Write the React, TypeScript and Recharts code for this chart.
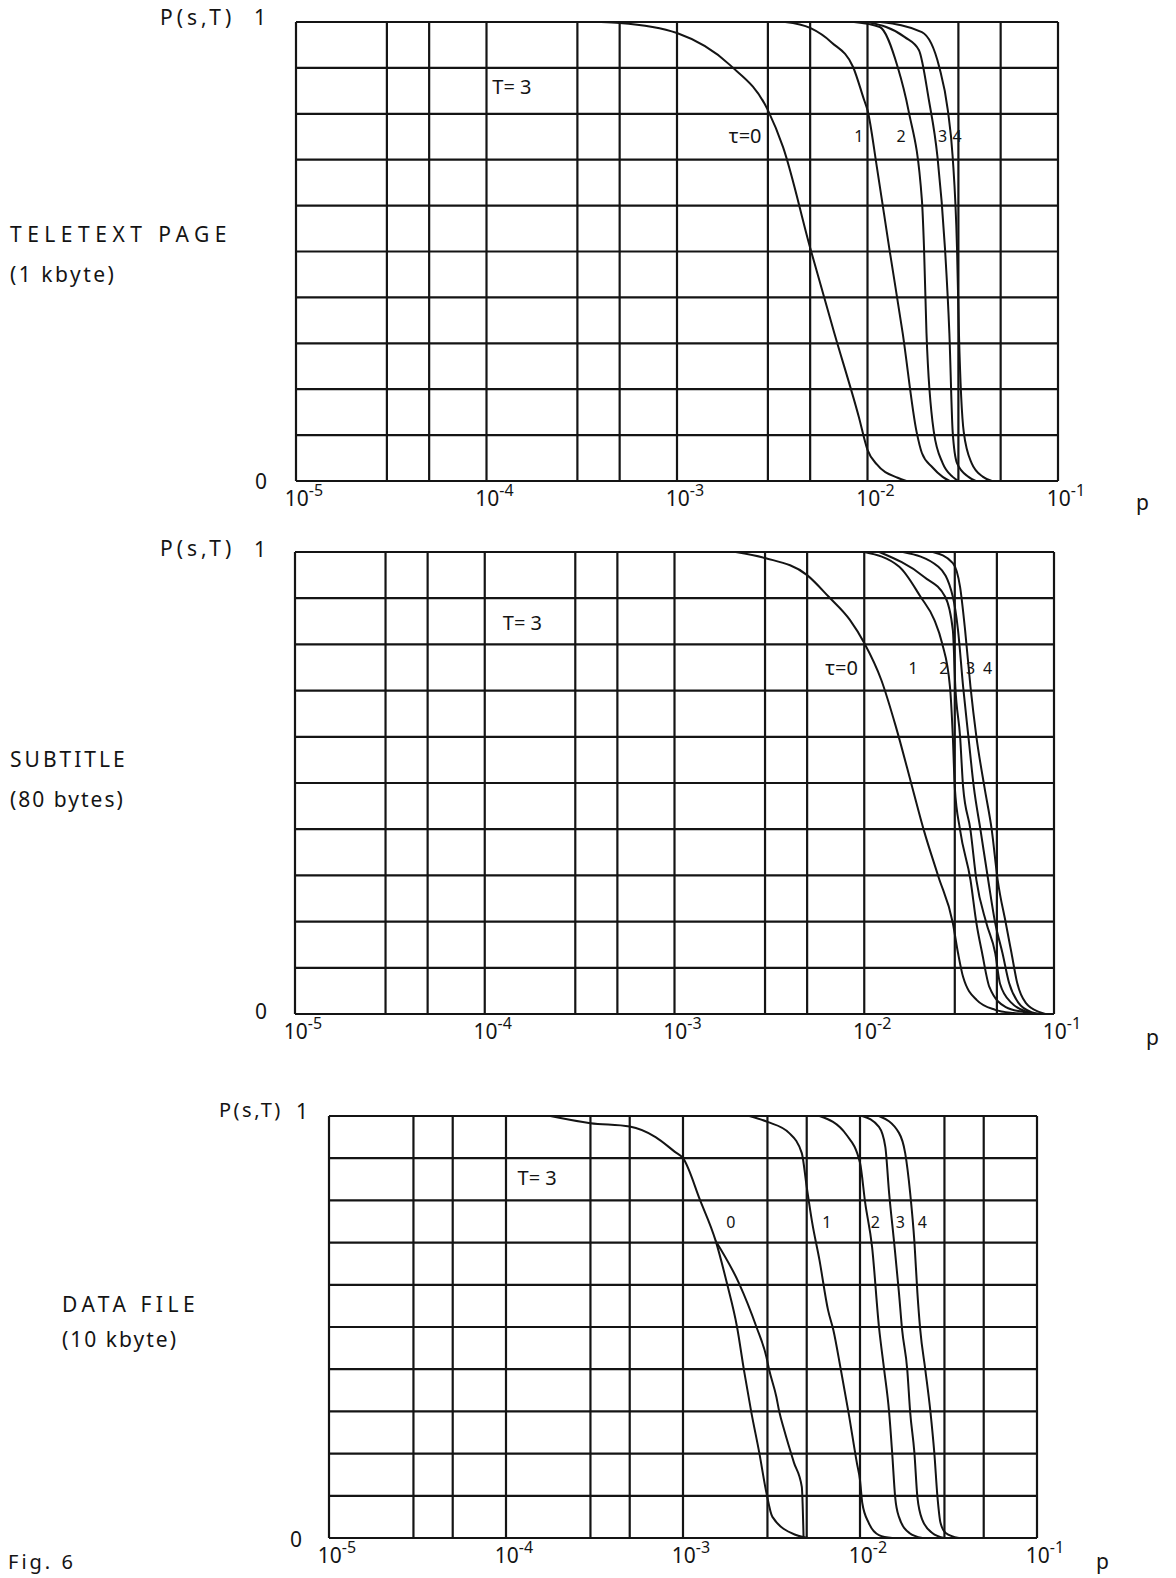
import React from 'react';
import { LineChart, Line, XAxis, YAxis, CartesianGrid, ReferenceDot } from 'recharts';

type Pt = [number, number];

// grid lines at 1, 3, 5 x 10^k, rows every 0.1
const X_TICKS = [1e-5, 3e-5, 5e-5, 1e-4, 3e-4, 5e-4, 1e-3, 3e-3, 5e-3, 1e-2, 3e-2, 5e-2, 1e-1];
const Y_TICKS = [0, 0.1, 0.2, 0.3, 0.4, 0.5, 0.6, 0.7, 0.8, 0.9, 1];

// TELETEXT PAGE (1 kbyte), T = 0..4
const teletextT0: Pt[] = [[4e-4, 1], [5e-4, 0.998], [1e-3, 0.976], [1.9e-3, 0.906], [3e-3, 0.808], [3.6e-3, 0.728], [5e-3, 0.508], [6.7e-3, 0.322], [9e-3, 0.14], [1e-2, 0.068], [1.12e-2, 0.036], [1.44e-2, 0.007], [1.6e-2, 0]];
const teletextT1: Pt[] = [[3.7e-3, 1], [5e-3, 0.987], [6.5e-3, 0.955], [8.4e-3, 0.902], [9.6e-3, 0.83], [1e-2, 0.808], [1.12e-2, 0.684], [1.3e-2, 0.508], [1.53e-2, 0.322], [1.81e-2, 0.107], [1.93e-2, 0.061], [2.19e-2, 0.03], [2.48e-2, 0.009], [2.7e-2, 0]];
const teletextT2: Pt[] = [[8.5e-3, 1], [1.16e-2, 0.989], [1.44e-2, 0.902], [1.64e-2, 0.808], [1.93e-2, 0.612], [1.98e-2, 0.508], [2.04e-2, 0.322], [2.23e-2, 0.107], [2.48e-2, 0.039], [2.8e-2, 0.009], [3e-2, 0]];
const teletextT3: Pt[] = [[1e-2, 1], [1.57e-2, 0.967], [1.86e-2, 0.939], [2.1e-2, 0.83], [2.33e-2, 0.706], [2.55e-2, 0.508], [2.69e-2, 0.322], [2.8e-2, 0.107], [2.95e-2, 0.039], [3.39e-2, 0.009], [3.7e-2, 0]];
const teletextT4: Pt[] = [[1.17e-2, 1], [1.93e-2, 0.978], [2.38e-2, 0.902], [2.64e-2, 0.808], [2.8e-2, 0.706], [2.95e-2, 0.508], [3.02e-2, 0.322], [3.2e-2, 0.107], [3.52e-2, 0.039], [4.04e-2, 0.009], [4.5e-2, 0]];

// SUBTITLE (80 bytes)
const subtitleT0: Pt[] = [[2.1e-3, 1], [3e-3, 0.987], [5e-3, 0.95], [6.5e-3, 0.903], [8.4e-3, 0.853], [1e-2, 0.803], [1.23e-2, 0.723], [1.47e-2, 0.621], [1.79e-2, 0.491], [2.06e-2, 0.398], [2.46e-2, 0.297], [2.93e-2, 0.197], [3.12e-2, 0.132], [3.32e-2, 0.08], [3.92e-2, 0.03], [4.9e-2, 0.009], [6.1e-2, 0.002], [7e-2, 0]];
const subtitleT1: Pt[] = [[1e-2, 1], [1.53e-2, 0.968], [1.98e-2, 0.903], [2.34e-2, 0.853], [2.57e-2, 0.803], [2.83e-2, 0.708], [2.93e-2, 0.6], [3e-2, 0.491], [3.2e-2, 0.398], [3.63e-2, 0.29], [3.9e-2, 0.197], [4.18e-2, 0.132], [4.57e-2, 0.058], [5.57e-2, 0.015], [7e-2, 0.004], [8e-2, 0]];
const subtitleT2: Pt[] = [[1.2e-2, 1], [2.07e-2, 0.946], [2.67e-2, 0.903], [2.93e-2, 0.831], [3.02e-2, 0.708], [3.2e-2, 0.6], [3.32e-2, 0.491], [3.63e-2, 0.398], [3.9e-2, 0.29], [4.4e-2, 0.197], [4.9e-2, 0.132], [5.2e-2, 0.065], [5.97e-2, 0.024], [7.3e-2, 0.004], [8.2e-2, 0]];
const subtitleT3: Pt[] = [[1.6e-2, 1], [2.46e-2, 0.968], [2.93e-2, 0.903], [3.12e-2, 0.831], [3.32e-2, 0.708], [3.54e-2, 0.6], [3.78e-2, 0.491], [4.1e-2, 0.398], [4.5e-2, 0.29], [4.9e-2, 0.197], [5.35e-2, 0.132], [5.8e-2, 0.067], [6.5e-2, 0.024], [7.6e-2, 0.004], [8.5e-2, 0]];
const subtitleT4: Pt[] = [[2.3e-2, 1], [2.93e-2, 0.976], [3.2e-2, 0.924], [3.4e-2, 0.831], [3.63e-2, 0.708], [3.9e-2, 0.6], [4.3e-2, 0.491], [4.7e-2, 0.398], [5.05e-2, 0.29], [5.57e-2, 0.197], [5.97e-2, 0.132], [6.4e-2, 0.067], [7.1e-2, 0.024], [8.4e-2, 0.004], [9e-2, 0]];

// DATA FILE (10 kbyte); T=0 shows a second branch in the lower half
const datafileT0: Pt[] = [[1.78e-4, 1], [3e-4, 0.983], [5e-4, 0.975], [7e-4, 0.95], [9e-4, 0.915], [1e-3, 0.9], [1.25e-3, 0.8], [1.53e-3, 0.704], [1.77e-3, 0.604], [2.02e-3, 0.5], [2.21e-3, 0.398], [2.43e-3, 0.299], [2.7e-3, 0.201], [2.96e-3, 0.107], [3.2e-3, 0.05], [4.35e-3, 0.007], [5.1e-3, 0]];
const datafileT0b: Pt[] = [[1.53e-3, 0.704], [2.07e-3, 0.604], [2.6e-3, 0.5], [2.96e-3, 0.429], [3.07e-3, 0.398], [3.37e-3, 0.334], [3.5e-3, 0.299], [3.73e-3, 0.256], [4.24e-3, 0.178], [4.69e-3, 0.121], [4.8e-3, 0]];
const datafileT1: Pt[] = [[2.37e-3, 1], [3e-3, 0.986], [3.97e-3, 0.96], [4.69e-3, 0.912], [5e-3, 0.832], [5.36e-3, 0.749], [5.9e-3, 0.659], [6.6e-3, 0.54], [7.07e-3, 0.493], [7.8e-3, 0.398], [8.6e-3, 0.299], [9.6e-3, 0.178], [1e-2, 0.137], [1.03e-2, 0.083], [1.12e-2, 0.036], [1.28e-2, 0.007], [1.52e-2, 0]];
const datafileT2: Pt[] = [[5.9e-3, 1], [8.4e-3, 0.955], [1e-2, 0.889], [1.07e-2, 0.794], [1.17e-2, 0.69], [1.28e-2, 0.5], [1.37e-2, 0.398], [1.46e-2, 0.299], [1.52e-2, 0.201], [1.58e-2, 0.097], [1.66e-2, 0.05], [1.9e-2, 0.012], [2.25e-2, 0]];
const datafileT3: Pt[] = [[1.03e-2, 1], [1.28e-2, 0.974], [1.39e-2, 0.927], [1.46e-2, 0.818], [1.56e-2, 0.699], [1.66e-2, 0.581], [1.73e-2, 0.493], [1.85e-2, 0.398], [1.92e-2, 0.299], [2.03e-2, 0.201], [2.11e-2, 0.097], [2.25e-2, 0.043], [2.56e-2, 0.012], [3e-2, 0]];
const datafileT4: Pt[] = [[1.28e-2, 1], [1.66e-2, 0.96], [1.8e-2, 0.912], [1.92e-2, 0.818], [2.03e-2, 0.701], [2.11e-2, 0.581], [2.19e-2, 0.493], [2.34e-2, 0.398], [2.5e-2, 0.299], [2.63e-2, 0.201], [2.74e-2, 0.097], [2.85e-2, 0.036], [3.05e-2, 0.012], [3.62e-2, 0]];

// curve labels [p, P, text]
type Note = [number, number, string];
const teletextNotes: Note[] = [[1.36e-4, 0.858, 'T= 3'], [2.28e-3, 0.752, 'τ=0'], [9e-3, 0.75, '1'], [1.5e-2, 0.75, '2'], [2.48e-2, 0.75, '3'], [2.95e-2, 0.75, '4']];
const subtitleNotes: Note[] = [[1.58e-4, 0.846, 'T= 3'], [7.6e-3, 0.749, 'τ=0'], [1.81e-2, 0.749, '1'], [2.63e-2, 0.749, '2'], [3.63e-2, 0.749, '3'], [4.46e-2, 0.749, '4']];
const datafileNotes: Note[] = [[1.5e-4, 0.853, 'T= 3'], [1.86e-3, 0.749, '0'], [6.5e-3, 0.749, '1'], [1.22e-2, 0.749, '2'], [1.69e-2, 0.749, '3'], [2.25e-2, 0.749, '4']];

const FONT = '"Noto Sans", sans-serif';
const INK = '#141414';

const rows = (pts: Pt[]) => pts.map(([p, P]) => ({ p, P }));

const XTick = (props: any) => {
  const { x, y, payload } = props;
  const v = payload.value;
  const e = Math.round(Math.log10(v));
  if (Math.abs(v / Math.pow(10, e) - 1) > 1e-6) return <g />;
  return (
    <text x={x + 8} y={y + 25} textAnchor="middle" fontFamily={FONT} fontSize={21} fill={INK}>
      <tspan>10</tspan>
      <tspan dy={-10} fontSize={16}>{`-${-e}`}</tspan>
    </text>
  );
};

const NoTick = () => <g />;

interface PanelProps {
  top: number;
  height: number;
  plot: { left: number; right: number; top: number; bottom: number };
  series: Pt[][];
  notes: Note[];
}

function Panel({ top, height, plot, series, notes }: PanelProps) {
  const yw = 10;
  const xh = 40;
  const margin = {
    top: plot.top - top,
    left: plot.left - yw,
    right: 1176 - plot.right,
    bottom: top + height - plot.bottom - xh,
  };
  return (
    <div style={{ position: 'absolute', left: 0, top }}>
      <LineChart width={1176} height={height} margin={margin}>
        <CartesianGrid stroke={INK} strokeWidth={2.2} horizontalValues={Y_TICKS} verticalValues={X_TICKS} />
        <XAxis
          dataKey="p"
          type="number"
          scale="log"
          domain={[1e-5, 1e-1]}
          ticks={X_TICKS}
          interval={0}
          allowDataOverflow
          tick={<XTick />}
          tickLine={false}
          axisLine={false}
          tickSize={0}
          tickMargin={0}
          height={xh}
        />
        <YAxis
          type="number"
          domain={[0, 1]}
          ticks={Y_TICKS}
          interval={0}
          tick={<NoTick />}
          tickLine={false}
          axisLine={false}
          width={yw}
        />
        {series.map((s, i) => (
          <Line
            key={i}
            data={rows(s)}
            dataKey="P"
            type="monotone"
            stroke={INK}
            strokeWidth={2}
            dot={false}
            isAnimationActive={false}
          />
        ))}
        {notes.map(([p, P, text], i) => (
          <ReferenceDot
            key={`n${i}`}
            x={p}
            y={P}
            r={0}
            ifOverflow="visible"
            label={{ value: text, position: 'center', fontFamily: FONT, fontSize: text.length > 2 ? 20 : 16, fill: INK }}
          />
        ))}
      </LineChart>
    </div>
  );
}

// text outside the plots: [text, left, centre y, size, letter spacing]
type Tag = [string, number, number, number, number];
const TAGS: Tag[] = [
  ['P(s,T)', 160, 18, 21, 4],
  ['1', 254, 18, 21, 0],
  ['0', 255, 482, 21, 0],
  ['TELETEXT PAGE', 10, 235, 21, 5.5],
  ['(1 kbyte)', 10, 275, 21, 2.5],
  ['p', 1136, 503, 21, 0],
  ['P(s,T)', 160, 549, 21, 4],
  ['1', 254, 550, 21, 0],
  ['0', 255, 1012, 21, 0],
  ['SUBTITLE', 10, 760, 21, 3],
  ['(80 bytes)', 10, 800, 21, 2],
  ['p', 1146, 1038, 21, 0],
  ['P(s,T)', 219, 1110, 20, 2.5],
  ['1', 296, 1112, 21, 0],
  ['0', 290, 1540, 21, 0],
  ['DATA FILE', 62, 1305, 21, 4.5],
  ['(10 kbyte)', 62, 1340, 21, 2],
  ['p', 1096, 1562, 21, 0],
  ['Fig. 6', 8, 1562, 20, 3],
];

export default function App() {
  return (
    <div style={{ position: 'absolute', left: 0, top: 0, width: 1176, height: 1578, background: '#fff', overflow: 'hidden' }}>
      <Panel
        top={0}
        height={525}
        plot={{ left: 296, right: 1058, top: 22, bottom: 481 }}
        series={[teletextT0, teletextT1, teletextT2, teletextT3, teletextT4]}
        notes={teletextNotes}
      />
      <Panel
        top={530}
        height={530}
        plot={{ left: 295, right: 1054, top: 552, bottom: 1014 }}
        series={[subtitleT0, subtitleT1, subtitleT2, subtitleT3, subtitleT4]}
        notes={subtitleNotes}
      />
      <Panel
        top={1090}
        height={488}
        plot={{ left: 329, right: 1037, top: 1116, bottom: 1538 }}
        series={[datafileT0, datafileT0b, datafileT1, datafileT2, datafileT3, datafileT4]}
        notes={datafileNotes}
      />
      {TAGS.map(([text, x, cy, size, ls], i) => (
        <div
          key={i}
          style={{
            position: 'absolute',
            left: x,
            top: cy - size * 0.6,
            fontFamily: FONT,
            fontSize: size,
            lineHeight: 1.2,
            letterSpacing: ls,
            color: INK,
            whiteSpace: 'pre',
          }}
        >
          {text}
        </div>
      ))}
    </div>
  );
}
